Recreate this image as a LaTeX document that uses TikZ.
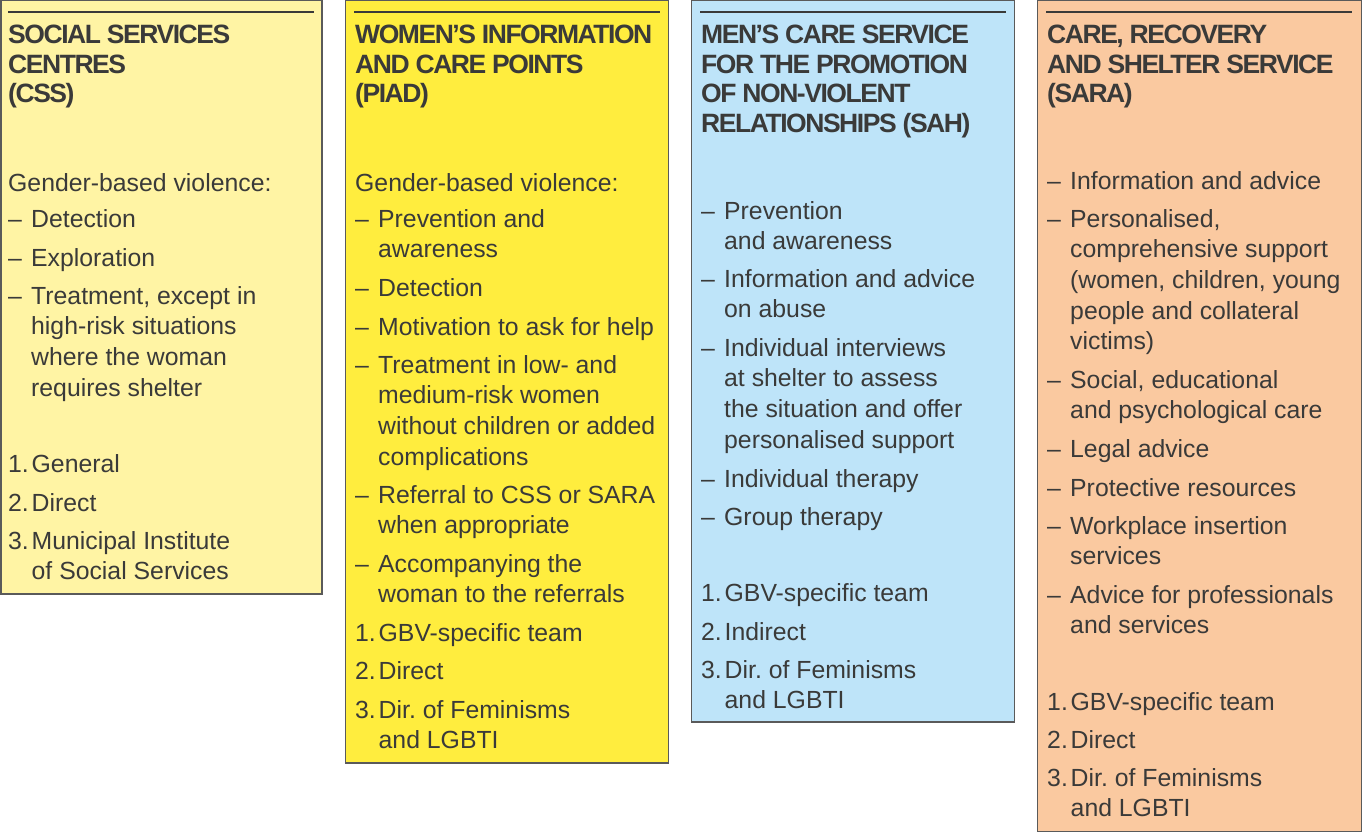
\documentclass[tikz,border=0pt]{standalone}
\usepackage{fontspec}
\setmainfont{Liberation Sans}
\newfontfamily\hfont{Liberation Sans}[LetterSpace=-5.5]
\definecolor{boxA}{RGB}{255,244,164}
\definecolor{boxB}{RGB}{255,237,62}
\definecolor{boxC}{RGB}{190,228,249}
\definecolor{boxD}{RGB}{250,201,160}
\definecolor{txtc}{RGB}{58,58,57}
\definecolor{edgec}{RGB}{90,90,90}
\frenchspacing
\newcommand\hd[4]{\node[hd] (#1) at (#2,#3) {\begin{tabular}[t]{@{}l@{}}#4\end{tabular}};}
\newcommand\ditem[4]{\node[tx] (#1) at (#2,#3) {\makebox[23pt][l]{–}\begin{tabular}[t]{@{}l@{}}#4\end{tabular}};}
\newcommand\nitem[5]{\node[tx] (#1) at (#2,#3) {\makebox[23.5pt][l]{#4}\begin{tabular}[t]{@{}l@{}}#5\end{tabular}};}
\newcommand\pline[4]{\node[tx] (#1) at (#2,#3) {#4};}
\begin{document}
\begin{tikzpicture}[x=1pt,y=-1pt,
  panel/.style={draw=edgec,line width=1.5pt},
  toprule/.style={draw=txtc,line width=2.6pt},
  tx/.style={anchor=base west,inner sep=0pt,text=txtc,font=\fontsize{24.8}{30.7}\selectfont},
  hd/.style={anchor=base west,inner sep=0pt,text=txtc,font=\hfont\bfseries\fontsize{26.5}{29.5}\selectfont}]
\useasboundingbox (0,0) rectangle (1362,832);
% panels
\path[panel,fill=boxA] (0.75,0.75) rectangle (322,594);
\path[panel,fill=boxB] (345.5,0.75) rectangle (668.5,763);
\path[panel,fill=boxC] (691.5,0.75) rectangle (1014.5,722);
\path[panel,fill=boxD] (1037.5,0.75) rectangle (1361.25,831.25);
\draw[toprule] (8,12) -- (314,12);
\draw[toprule] (354,12) -- (660,12);
\draw[toprule] (700,12) -- (1006,12);
\draw[toprule] (1046,12) -- (1352,12);
% column 1
\hd{h1}{8}{44}{SOCIAL SERVICES\\CENTRES\\(CSS)}
\pline{a0}{8}{191}{Gender-based violence:}
\ditem{a1}{8}{227}{Detection}
\ditem{a2}{8}{266}{Exploration}
\ditem{a3}{8}{304}{Treatment, except in\\high-risk situations\\where the woman\\requires shelter}
\nitem{a4}{8}{472}{1.}{General}
\nitem{a5}{8}{511}{2.}{Direct}
\nitem{a6}{8}{549}{3.}{Municipal Institute\\of Social Services}
% column 2
\hd{h2}{355}{44}{WOMEN’S INFORMATION\\AND CARE POINTS\\(PIAD)}
\pline{b0}{355}{191}{Gender-based violence:}
\ditem{b1}{355}{227}{Prevention and\\awareness}
\ditem{b2}{355}{296}{Detection}
\ditem{b3}{355}{335}{Motivation to ask for help}
\ditem{b4}{355}{373}{Treatment in low- and\\medium-risk women\\without children or added\\complications}
\ditem{b5}{355}{503}{Referral to CSS or SARA\\when appropriate}
\ditem{b6}{355}{572}{Accompanying the\\woman to the referrals}
\nitem{b7}{355}{641}{1.}{GBV-specific team}
\nitem{b8}{355}{679}{2.}{Direct}
\nitem{b9}{355}{718}{3.}{Dir.\ of Feminisms\\and LGBTI}
% column 3
\hd{h3}{701}{44}{MEN’S CARE SERVICE\\FOR THE PROMOTION\\OF NON-VIOLENT\\RELATIONSHIPS (SAH)}
\ditem{c1}{701}{219}{Prevention\\and awareness}
\ditem{c2}{701}{287}{Information and advice\\on abuse}
\ditem{c3}{701}{356}{Individual interviews\\at shelter to assess\\the situation and offer\\personalised support}
\ditem{c4}{701}{487}{Individual therapy}
\ditem{c5}{701}{525}{Group therapy}
\nitem{c6}{701}{601}{1.}{GBV-specific team}
\nitem{c7}{701}{640}{2.}{Indirect}
\nitem{c8}{701}{678}{3.}{Dir.\ of Feminisms\\and LGBTI}
% column 4
\hd{h4}{1047}{44}{CARE, RECOVERY\\AND SHELTER SERVICE\\(SARA)}
\ditem{d1}{1047}{189}{Information and advice}
\ditem{d2}{1047}{227}{Personalised,\\comprehensive support\\(women, children, young\\people and collateral\\victims)}
\ditem{d3}{1047}{388}{Social, educational\\and psychological care}
\ditem{d4}{1047}{457}{Legal advice}
\ditem{d5}{1047}{496}{Protective resources}
\ditem{d6}{1047}{534}{Workplace insertion\\services}
\ditem{d7}{1047}{603}{Advice for professionals\\and services}
\nitem{d8}{1047}{710}{1.}{GBV-specific team}
\nitem{d9}{1047}{748}{2.}{Direct}
\nitem{d10}{1047}{786}{3.}{Dir.\ of Feminisms\\and LGBTI}
\end{tikzpicture}
\end{document}
